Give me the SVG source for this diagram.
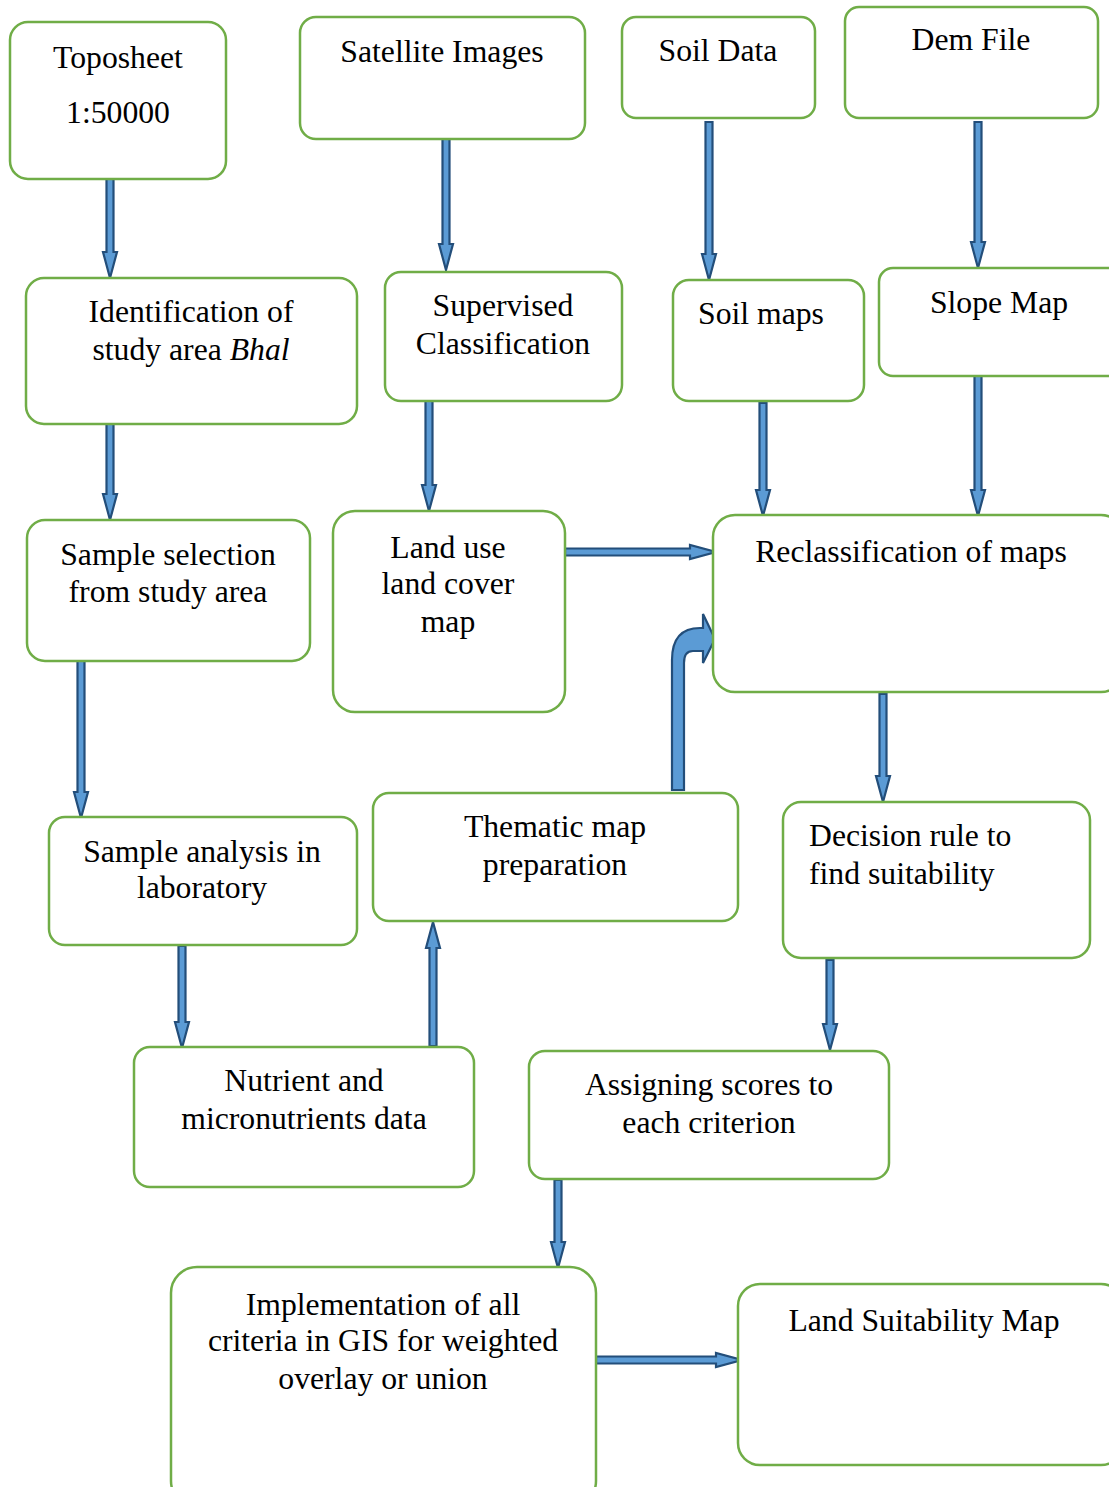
<svg xmlns="http://www.w3.org/2000/svg" width="1109" height="1487" viewBox="0 0 1109 1487">
<style>
.box{fill:#fff;stroke:#70AD47;stroke-width:2.5}
.t{font-family:"Liberation Serif","Times New Roman",serif;font-size:31.7px;fill:#000;text-anchor:middle}
.l{text-anchor:start}
.arr{fill:#5B9BD5;stroke:#234E7A;stroke-width:2.2;stroke-linejoin:miter}
</style>
<rect width="1109" height="1487" fill="#fff"/>
<g id="connectors">
<polygon class="arr" points="106.5,179 113.5,179 113.5,252 117,252 110,278 103,252 106.5,252"/>
<polygon class="arr" points="442.5,139 449.5,139 449.5,244 453,244 446,270 439,244 442.5,244"/>
<polygon class="arr" points="705.5,122 712.5,122 712.5,254 716,254 709,280 702,254 705.5,254"/>
<polygon class="arr" points="974.5,122 981.5,122 981.5,242 985,242 978,268 971,242 974.5,242"/>
<polygon class="arr" points="106.5,422 113.5,422 113.5,494 117,494 110,520 103,494 106.5,494"/>
<polygon class="arr" points="425.5,401 432.5,401 432.5,485 436,485 429,511 422,485 425.5,485"/>
<polygon class="arr" points="759.5,403 766.5,403 766.5,490 770,490 763,516 756,490 759.5,490"/>
<polygon class="arr" points="974.5,376 981.5,376 981.5,490 985,490 978,516 971,490 974.5,490"/>
<polygon class="arr" points="565,548.5 690,548.5 690,545 716,552 690,559 690,555.5 565,555.5"/>
<polygon class="arr" points="77.5,661 84.5,661 84.5,792 88,792 81,818 74,792 77.5,792"/>
<polygon class="arr" points="178.5,946 185.5,946 185.5,1022 189,1022 182,1048 175,1022 178.5,1022"/>
<polygon class="arr" points="429.5,1046 436.5,1046 436.5,948 440,948 433,922 426,948 429.5,948"/>
<path class="arr" d="M672,790 L672,660 Q672,628 700,628 L703,628 L703,614 L715,639 L703,663 L703,651 L693,651 Q684,651 684,663 L684,790 Z"/>
<polygon class="arr" points="879.5,694 886.5,694 886.5,776 890,776 883,802 876,776 879.5,776"/>
<polygon class="arr" points="826.5,960 833.5,960 833.5,1024 837,1024 830,1050 823,1024 826.5,1024"/>
<polygon class="arr" points="554.5,1180 561.5,1180 561.5,1242 565,1242 558,1268 551,1242 554.5,1242"/>
<polygon class="arr" points="596,1356.5 716,1356.5 716,1353 742,1360 716,1367 716,1363.5 596,1363.5"/>
</g>
<g id="toposheet"><rect class="box" x="10" y="22" width="216" height="157" rx="18"/>
<text class="t" x="118" y="68">Toposheet</text><text class="t" x="118" y="123">1:50000</text></g>
<g id="satellite"><rect class="box" x="300" y="17" width="285" height="122" rx="16"/>
<text class="t" x="442" y="62">Satellite Images</text></g>
<g id="soildata"><rect class="box" x="622" y="17" width="193" height="101" rx="14"/>
<text class="t" x="718" y="61">Soil Data</text></g>
<g id="dem"><rect class="box" x="845" y="7" width="253" height="111" rx="14"/>
<text class="t" x="971" y="50">Dem File</text></g>
<g id="identification"><rect class="box" x="26" y="278" width="331" height="146" rx="18"/>
<text class="t" x="191" y="322">Identification of</text><text class="t" x="191" y="360">study area <tspan font-style="italic">Bhal</tspan></text></g>
<g id="supervised"><rect class="box" x="385" y="272" width="237" height="129" rx="16"/>
<text class="t" x="503" y="316">Supervised</text><text class="t" x="503" y="354">Classification</text></g>
<g id="soilmaps"><rect class="box" x="673" y="280" width="191" height="121" rx="16"/>
<text class="t" x="761" y="324">Soil maps</text></g>
<g id="slope"><rect class="box" x="879" y="268" width="245" height="108" rx="14"/>
<text class="t" x="999" y="313">Slope Map</text></g>
<g id="sampleselection"><rect class="box" x="27" y="520" width="283" height="141" rx="18"/>
<text class="t" x="168" y="565">Sample selection</text><text class="t" x="168" y="602">from study area</text></g>
<g id="lulc"><rect class="box" x="333" y="511" width="232" height="201" rx="22"/>
<text class="t" x="448" y="558">Land use</text><text class="t" x="448" y="594">land cover</text><text class="t" x="448" y="632">map</text></g>
<g id="reclass"><rect class="box" x="713" y="515" width="410" height="177" rx="22"/>
<text class="t" x="911" y="562">Reclassification of maps</text></g>
<g id="sampleanalysis"><rect class="box" x="49" y="817" width="308" height="128" rx="16"/>
<text class="t" x="202" y="862">Sample analysis in</text><text class="t" x="202" y="898">laboratory</text></g>
<g id="thematic"><rect class="box" x="373" y="793" width="365" height="128" rx="16"/>
<text class="t" x="555" y="837">Thematic map</text><text class="t" x="555" y="875">preparation</text></g>
<g id="decision"><rect class="box" x="783" y="802" width="307" height="156" rx="18"/>
<text class="t l" x="809" y="846">Decision rule to</text><text class="t l" x="809" y="884">find suitability</text></g>
<g id="nutrient"><rect class="box" x="134" y="1047" width="340" height="140" rx="16"/>
<text class="t" x="304" y="1091">Nutrient and</text><text class="t" x="304" y="1129">micronutrients data</text></g>
<g id="assigning"><rect class="box" x="529" y="1051" width="360" height="128" rx="16"/>
<text class="t" x="709" y="1095">Assigning scores to</text><text class="t" x="709" y="1133">each criterion</text></g>
<g id="implementation"><rect class="box" x="171" y="1267" width="425" height="240" rx="26"/>
<text class="t" x="383" y="1315">Implementation of all</text><text class="t" x="383" y="1351">criteria in GIS for weighted</text><text class="t" x="383" y="1389">overlay or union</text></g>
<g id="landsuitability"><rect class="box" x="738" y="1284" width="385" height="181" rx="22"/>
<text class="t" x="924" y="1331">Land Suitability Map</text></g>
</svg>
